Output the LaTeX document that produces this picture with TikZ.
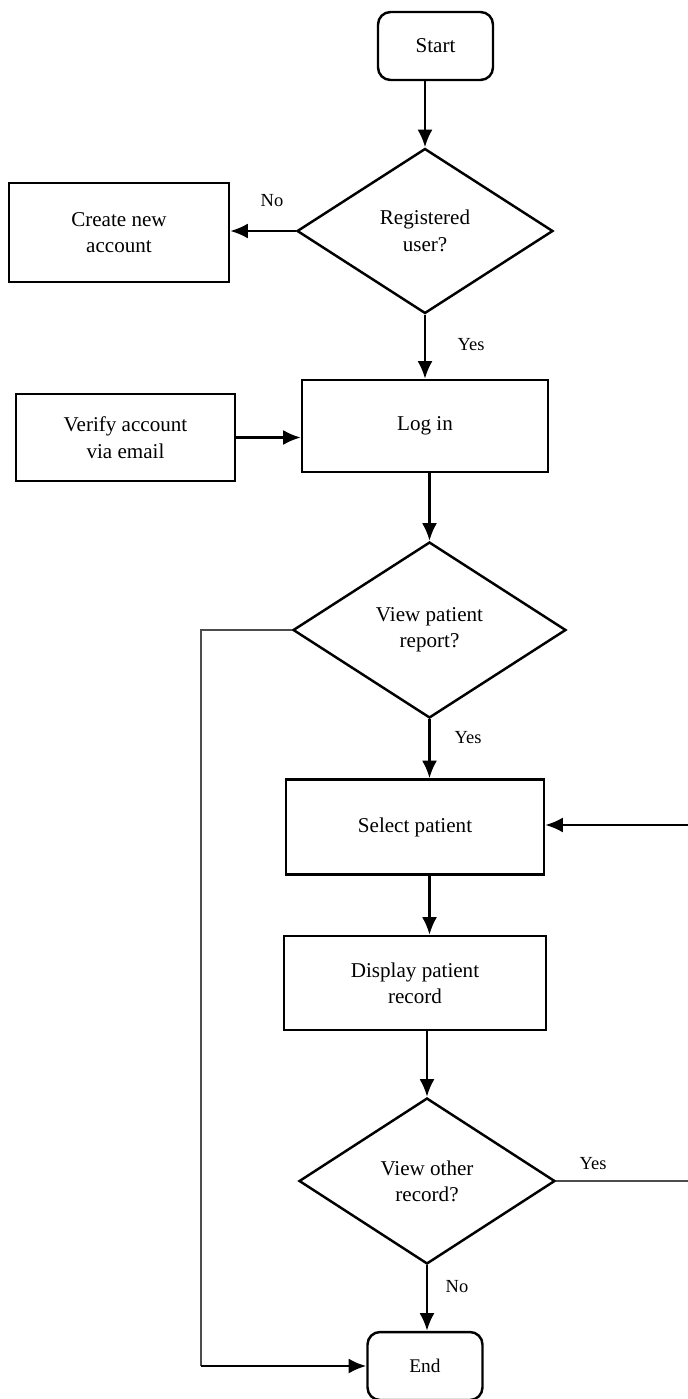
\documentclass[tikz,border=0pt]{standalone}
\usepackage{fontspec}
\setmainfont{Liberation Serif}
\usetikzlibrary{shapes.geometric,arrows.meta}

\begin{document}
\begin{tikzpicture}[x=0.02cm, y=-0.02cm,
    txt/.style={font=\fontsize{12}{15}\selectfont, align=center},
    terminal/.style={txt, draw, line width=1.4pt, rounded corners=0.25cm, minimum width=2.3cm, minimum height=1.36cm},
    process/.style={txt, draw, line width=1.4pt, inner sep=0pt},
    decision/.style={txt, draw, diamond, line width=1.4pt, inner sep=0pt},
    lbl/.style={font=\fontsize{10.5}{12}\selectfont, inner sep=0pt},
    flow/.style={line width=1.4pt, -{Latex[length=10pt, width=8.5pt]}},
    plain/.style={line width=0.6pt, draw=black!70}]
  \useasboundingbox (0,0) rectangle (688,1399);

  % nodes
  \node[terminal] (start) at (435.5,46) {Start};
  \node[decision, minimum width=5.12cm, minimum height=3.3cm] (reg) at (425,231) {Registered\\user?};
  \node[process, minimum width=4.4cm, minimum height=1.98cm] (newacc) at (119,232.5) {Create new\\account};
  \node[process, minimum width=4.92cm, minimum height=1.84cm] (login) at (425,426) {Log in};
  \node[process, minimum width=4.38cm, minimum height=1.74cm] (verify) at (125.5,437.5) {Verify account\\via email};
  \node[decision, minimum width=5.46cm, minimum height=3.52cm] (view) at (429.5,630) {View patient\\report?};
  \node[process, minimum width=5.16cm, minimum height=1.9cm] (select) at (415,827) {Select patient};
  \node[process, minimum width=5.24cm, minimum height=1.88cm] (display) at (415,983) {Display patient\\record};
  \node[decision, minimum width=5.12cm, minimum height=3.32cm] (other) at (427,1181) {View other\\record?};
  \node[terminal, font=\fontsize{11}{13}\selectfont] (end) at (425,1366) {End};

  % labels
  \node[lbl] (noA) at (272,201) {No};
  \node[lbl] (yesA) at (471,345) {Yes};
  \node[lbl] (yesB) at (468,738) {Yes};
  \node[lbl] (yesC) at (593,1164) {Yes};
  \node[lbl] (noB) at (457,1287) {No};

  \coordinate (loopTop) at (201,630);
  \coordinate (loopBot) at (201,1366);
  \coordinate (backBot) at (690,1181);
  \coordinate (backTop) at (690,825);

  % connectors
  \draw[flow] (start.south -| reg.north) -- (reg.north);
  \draw[flow] (reg.west) -- (newacc.east |- reg.west);
  \draw[flow] (reg.south) -- (login.north -| reg.south);
  \draw[flow] (verify.east) -- (login.west |- verify.east);
  \draw[flow] (login.south -| view.north) -- (view.north);
  \draw[flow] (view.south) -- (select.north -| view.south);
  \draw[flow] (select.south -| view.south) -- (display.north -| view.south);
  \draw[flow] (display.south -| other.north) -- (other.north);
  \draw[flow] (other.south) -- (end.north -| other.south);
  \draw[plain] (view.west) -- (loopTop) -- (loopBot);
  \draw[flow] (loopBot) -- (end.west);
  \draw[plain] (other.east) -- (backBot) -- (backTop);
  \draw[flow] (backTop) -- (select.east |- backTop);
\end{tikzpicture}
\end{document}
